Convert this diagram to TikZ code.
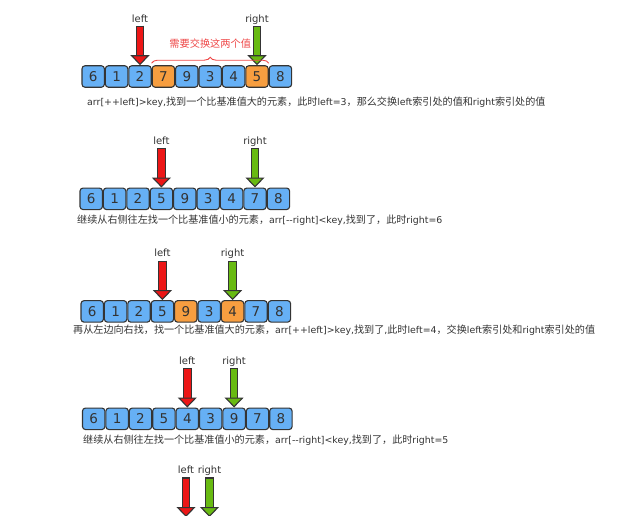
\documentclass[tikz,border=0pt]{standalone}
\usepackage{fontspec}
\setmainfont{DejaVu Sans}
\newfontfamily\cjk{Noto Sans CJK SC}
\newfontfamily\latfont{DejaVu Sans}[Scale=0.93]
\newcommand{\latrun}[1]{{\latfont #1}}
\usetikzlibrary{arrows.meta,positioning,decorations.pathreplacing}
\definecolor{cellblue}{RGB}{102,176,245}
\definecolor{cellorange}{RGB}{247,158,64}
\definecolor{ptrred}{RGB}{236,22,22}
\definecolor{ptrgreen}{RGB}{104,186,18}
\definecolor{edgegray}{RGB}{52,52,52}
\definecolor{txtgray}{RGB}{51,51,51}
\definecolor{notered}{RGB}{238,72,72}
\begin{document}
\begin{tikzpicture}[x=1pt,y=-1pt,node distance=38.5pt,font=\fontsize{10}{12}\selectfont,
  ptr/.style={line width=6.5pt,draw=#1,-{Triangle[width=19pt,length=10pt,fill=#1,color=edgegray,line width=1.1pt]},
    preaction={draw=edgegray,line width=8.7pt,-,shorten >=9pt,shorten <=-1.1pt}}]
\tikzstyle{cell}=[draw=edgegray,line width=1.1pt,fill=cellblue,rounded corners=3pt,minimum width=22.4pt,minimum height=21.5pt,inner sep=0pt,text=txtgray,font=\fontsize{13.5}{14}\selectfont]
\tikzstyle{hot}=[fill=cellorange]
\tikzstyle{plain}=[]
\tikzstyle{tag}=[text=txtgray,inner xsep=0pt,inner ysep=2.5pt,text height=7.5pt,text depth=2pt]
\tikzstyle{note}=[anchor=west,inner sep=0pt,text=txtgray,font=\cjk\fontsize{10.1}{12}\selectfont]
\useasboundingbox (0,0) rectangle (620,522);
\foreach \v/\s [count=\i from 0] in {6/plain,1/plain,2/plain,7/hot,9/plain,3/plain,4/plain,5/hot,8/plain}
  \node[cell,\s] (a\i) at (93.2+23.4*\i,76.5) {\v};
\foreach \v [count=\i from 0] in {6,1,2,5,9,3,4,7,8}
  \node[cell] (b\i) at (91.2+23.4*\i,198.8) {\v};
\foreach \v/\s [count=\i from 0] in {6/plain,1/plain,2/plain,5/plain,9/hot,3/plain,4/hot,7/plain,8/plain}
  \node[cell,\s] (c\i) at (92.2+23.4*\i,311.4) {\v};
\foreach \v [count=\i from 0] in {6,1,2,5,4,3,9,7,8}
  \node[cell] (d\i) at (93.7+23.4*\i,418.8) {\v};
\coordinate (eL) at (186,517);
\coordinate (eR) at (209.5,517);
\node[tag,above=of a2] (aL) {left};
\node[tag,above=of a7] (aR) {right};
\node[tag,above=of b3] (bL) {left};
\node[tag,above=of b7] (bR) {right};
\node[tag,above=of c3] (cL) {left};
\node[tag,above=of c6] (cR) {right};
\node[tag,above=of d4] (dL) {left};
\node[tag,above=of d6] (dR) {right};
\node[tag,above=of eL] (eLt) {left};
\node[tag,above=of eR] (eRt) {right};
\draw[ptr=ptrred] (aL) -- (a2);
\draw[ptr=ptrgreen] (aR) -- (a7);
\draw[ptr=ptrred] (bL) -- (b3);
\draw[ptr=ptrgreen] (bR) -- (b7);
\draw[ptr=ptrred] (cL) -- (c3);
\draw[ptr=ptrgreen] (cR) -- (c6);
\draw[ptr=ptrred] (dL) -- (d4);
\draw[ptr=ptrgreen] (dR) -- (d6);
\begin{scope}
\clip (0,0) rectangle (620,515);
\draw[ptr=ptrred] (eLt) -- (eL);
\draw[ptr=ptrgreen] (eRt) -- (eR);
\end{scope}
\draw[notered,line width=0.9pt,decorate,decoration={brace,amplitude=6pt}] ([yshift=2pt]a3.north west) -- ([yshift=2pt]a7.north east)
  node[midway,above=13.7pt,inner sep=1pt,font=\cjk\fontsize{10.2}{12}\selectfont] (swap) {需要交换这两个值};
\node[note] (capA) at (87,102) {\latrun{arr[++left]>key,}找到一个比基准值大的元素，此时\latrun{left=3}，那么交换\latrun{left}索引处的值和\latrun{right}索引处的值};
\node[note] (capB) at (77,220) {继续从右侧往左找一个比基准值小的元素，\latrun{arr[{-}{-}right]<key,}找到了，此时\latrun{right=6}};
\begin{scope}
\clip (0,0) rectangle (598,522);
\node[note] (capC) at (73,330) {再从左边向右找，找一个比基准值大的元素，\latrun{arr[++left]>key,}找到了\latrun{,}此时\latrun{left=4}，交换\latrun{left}索引处和\latrun{right}索引处的值};
\end{scope}
\node[note] (capD) at (83,440) {继续从右侧往左找一个比基准值小的元素，\latrun{arr[{-}{-}right]<key,}找到了，此时\latrun{right=5}};
\end{tikzpicture}
\end{document}
